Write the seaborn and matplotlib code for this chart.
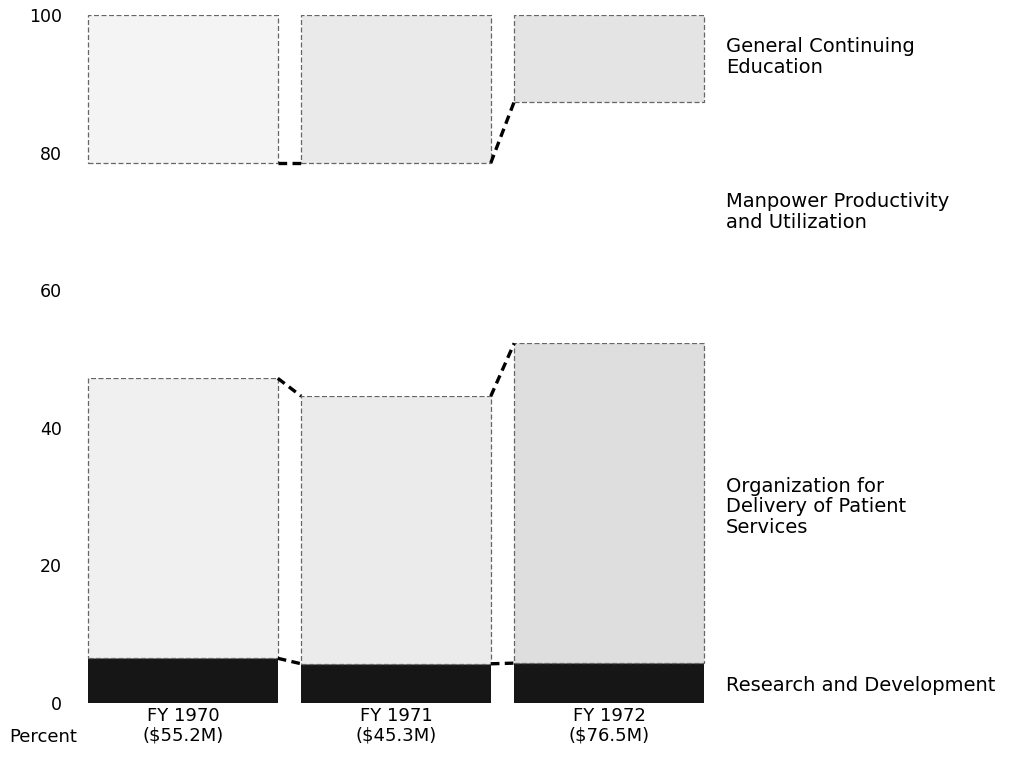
import numpy as np
import pandas as pd
import matplotlib
matplotlib.use("Agg")
import matplotlib.pyplot as plt
import seaborn as sns

# ---- data ----
years = ["FY 1970\n($55.2M)", "FY 1971\n($45.3M)", "FY 1972\n($76.5M)"]
segment_names = ["Research and Development",
                 "Organization for\nDelivery of Patient\nServices",
                 "Manpower Productivity\nand Utilization",
                 "General Continuing\nEducation"]
research_dev = [6.5, 5.7, 5.8]
org_delivery = [40.7, 38.9, 46.5]
manpower = [31.3, 33.9, 35.1]
general_ed = [21.5, 21.5, 12.6]
y_ticks = [0, 20, 40, 60, 80, 100]

# ---- style ----
sns.set_theme(style="white")
plt.rcParams['font.family'] = ['DejaVu Sans']
plt.rcParams['text.color'] = 'black'
plt.rcParams['xtick.color'] = 'black'
plt.rcParams['ytick.color'] = 'black'
FS_TICK = 12.5
FS_LAB = 14

fig = plt.figure(figsize=(10.09, 7.61), dpi=100)
ax = fig.add_axes([0.0758, 0.0762, 0.6333, 0.904])

series = [research_dev, org_delivery, manpower, general_ed]
fills = [["#161616", "#161616", "#161616"],
         ["#f0f0f0", "#ebebeb", "#dedede"],
         ["#ffffff", "#ffffff", "#ffffff"],
         ["#f4f4f4", "#eaeaea", "#e4e4e4"]]
BW = 0.89
bottom = np.zeros(len(years))
tops = []
for i, vals in enumerate(series):
    df = pd.DataFrame({"year": years, "value": vals})
    n_before = len(ax.patches)
    sns.barplot(data=df, x="year", y="value", order=years, width=BW,
                color=fills[i][0], bottom=bottom.copy(), ax=ax,
                errorbar=None, linewidth=0)
    for j, p in enumerate(ax.patches[n_before:]):
        p.set_facecolor(fills[i][j])
        if i in (1, 3):
            p.set_edgecolor("#666666")
            p.set_linewidth(0.9)
            p.set_linestyle((0, (4, 2)))
        else:
            p.set_edgecolor("none")
    bottom = bottom + np.array(vals)
    tops.append(bottom.copy())

# connector dashed lines between bars at segment tops
for k in range(3):
    t = tops[k]
    for j in range(len(years) - 1):
        ax.plot([j + BW / 2, j + 1 - BW / 2], [t[j], t[j + 1]],
                color="black", lw=2.4, ls=(0, (2.6, 1.6)),
                solid_capstyle="butt", dash_capstyle="butt", zorder=5,
                clip_on=False)

ax.set_xlim(-0.5, 2.5)
ax.set_ylim(0, 100)
ax.set_yticks(y_ticks)
ax.set_yticklabels([str(v) for v in y_ticks], fontsize=FS_TICK)
ax.set_xticks(range(len(years)))
ax.set_xticklabels(years, fontsize=FS_TICK + 0.5, linespacing=1.1)
ax.tick_params(axis="y", length=0, pad=10.5)
ax.tick_params(axis="x", length=0, pad=3)
ax.set_xlabel("")
ax.set_ylabel("")
for s in ax.spines.values():
    s.set_visible(False)

# right-side segment labels
label_y = [2.5, 28.5, 71.4, 93.9]
for name, yv in zip(segment_names, label_y):
    ax.text(2.55, yv, name, fontsize=FS_LAB, ha="left", va="center",
            linespacing=1.1, clip_on=False)

fig.text(0.009, 0.031, "Percent", fontsize=FS_TICK + 0.5, ha="left", va="center")

fig.savefig("out.png", dpi=100)
